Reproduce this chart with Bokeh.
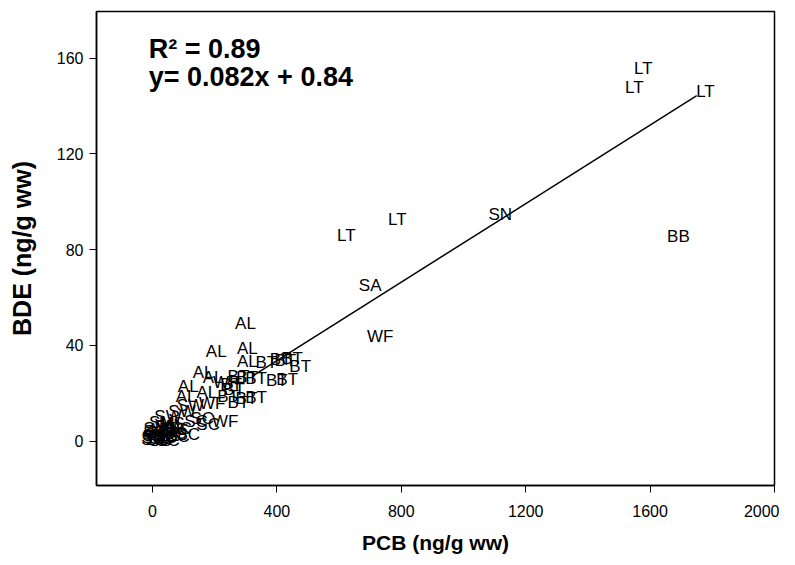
from bokeh.plotting import figure
from bokeh.models import Range1d, Label, ColumnDataSource, FixedTicker
from bokeh.embed import file_html
from bokeh.resources import INLINE

# ---- data ----
species = ["LT", "LT", "LT", "BB", "SN", "LT", "LT", "SA", "WF",
           "AL", "AL", "AL", "AL", "BT", "BT", "BT", "BT",
           "AL", "AL", "BT", "BT", "BT", "BT", "BT", "WF", "BT",
           "AL", "AL", "BT", "BT", "BT", "WF", "BT", "SW", "SW",
           "SC", "SC", "WF", "SC", "SC",
           "SC", "SC", "SC", "SC", "SC", "SC", "SC", "SC", "MS", "SM",
           "SM", "MS", "SC", "SC", "SC",
           "BT", "BT", "AL", "SW", "SC", "MS", "SM", "SC", "SC", "MS"]
pcb = [1578, 1549, 1778, 1691, 1118, 787, 623, 700, 732,
       299, 205, 305, 305, 366, 427, 449, 475,
       163, 195, 276, 304, 333, 400, 433, 237, 253,
       115, 108, 243, 302, 333, 192, 276, 122, 50,
       140, 179, 234, 115, 82,
       2, 15, 28, 41, 57, 73, 5, 18, 34, 12,
       47, 70, 2, 25, 50,
       412, 262, 175, 95, 160, 62, 30, 88, 8, 40]
bde = [155.6, 147.6, 145.9, 85.4, 94.6, 92.5, 85.8, 64.9, 43.6,
       49.1, 37.4, 38.7, 33.3, 32.8, 33.7, 34.5, 31.2,
       28.7, 26.6, 27.0, 26.6, 26.2, 25.3, 25.7, 24.5, 23.7,
       22.8, 18.7, 18.7, 17.8, 18.2, 15.7, 16.2, 14.9, 10.3,
       8.2, 7.0, 8.2, 2.8, 2.0,
       0.7, 0.7, 1.1, 1.5, 2.4, 3.2, 2.4, 3.6, 4.9, 5.3,
       6.1, 4.9, 1.5, 0.3, 0.3,
       34.0, 21.5, 20.5, 12.5, 9.5, 7.5, 8.0, 5.5, 4.0, 2.2]

slope = 0.082
intercept = 0.84
r_squared = 0.89
fit_x = [320, 1750]
fit_y = [slope * v + intercept for v in fit_x]

x_ticks = [0, 400, 800, 1200, 1600, 2000]
y_ticks = [0, 40, 80, 120, 160]

FONT = "Liberation Sans"

p = figure(width=779, height=557, output_backend="svg", toolbar_location=None,
           x_range=Range1d(-180, 2000), y_range=Range1d(-18.5, 179.5),
           min_border_left=96, min_border_right=5, min_border_top=11,
           min_border_bottom=72)
p.grid.visible = False
p.background_fill_color = "white"
p.border_fill_color = "white"
p.outline_line_color = "black"
p.outline_line_width = 1.5

src = ColumnDataSource(dict(x=pcb, y=bde, t=species))
p.text(x="x", y="y", text="t", source=src, text_align="center",
       text_baseline="middle", text_font_size="17px", text_color="black",
       text_font={"value": FONT})

p.line(fit_x, fit_y, line_color="black", line_width=1.5)

p.add_layout(Label(x=-12, y=164.0, text="R\u00b2 = %.2f" % r_squared,
                   text_font=FONT, text_font_size="27px", text_font_style="bold",
                   text_baseline="alphabetic", text_color="black"))
p.add_layout(Label(x=-12, y=152.0, text="y= %.3fx + %.2f" % (slope, intercept),
                   text_font=FONT, text_font_size="27px", text_font_style="bold",
                   text_baseline="alphabetic", text_color="black"))

for ax in (p.xaxis[0], p.yaxis[0]):
    ax.axis_line_color = "black"
    ax.axis_line_width = 1.5
    ax.major_tick_line_color = "black"
    ax.major_tick_line_width = 1
    ax.major_tick_in = 0
    ax.major_tick_out = 7
    ax.minor_tick_line_color = None
    ax.major_label_text_font = FONT
    ax.major_label_text_font_size = "16px"
    ax.major_label_text_color = "black"
    ax.axis_label_text_font = FONT
    ax.axis_label_text_font_style = "bold"
    ax.axis_label_text_color = "black"

p.xaxis.ticker = FixedTicker(ticks=x_ticks)
p.yaxis.ticker = FixedTicker(ticks=y_ticks)
p.xaxis.axis_label = "PCB (ng/g ww)"
p.yaxis.axis_label = "BDE (ng/g ww)"
p.xaxis.axis_label_text_font_size = "21px"
p.yaxis.axis_label_text_font_size = "25px"
p.xaxis.major_label_standoff = 12
p.yaxis.major_label_standoff = 6
p.xaxis.axis_label_standoff = 11
p.yaxis.axis_label_standoff = 18

open("out.html", "w").write(file_html(p, INLINE))
